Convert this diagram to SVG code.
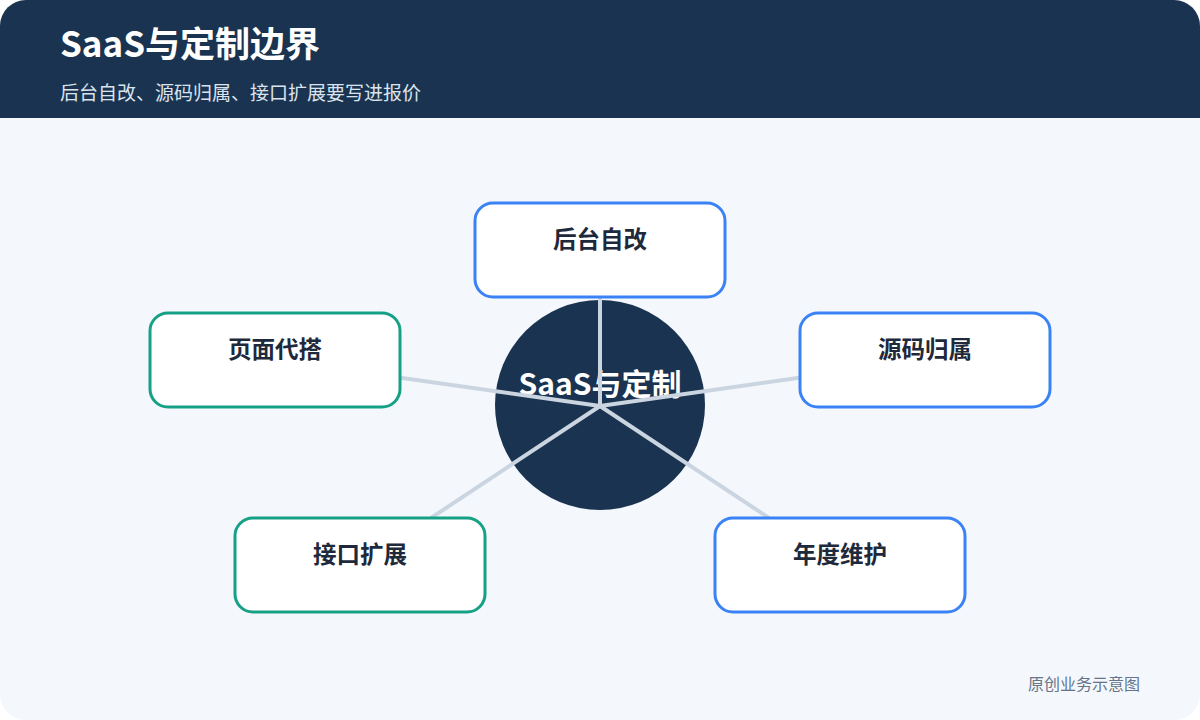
<svg xmlns="http://www.w3.org/2000/svg" width="1200" height="720" viewBox="0 0 1200 720">
<style>
.node rect{fill:#ffffff;stroke-width:3}
.blue rect{stroke:#3b82f6}
.green rect{stroke:#16a085}
.lbl{font-family:"Noto Sans CJK SC","Noto Sans",sans-serif;font-weight:700;font-size:23.5px;fill:#1e293b;text-anchor:middle}
.conn line{stroke:#cbd5e1;stroke-width:4;stroke-linecap:round}
</style>
<rect width="1200" height="720" fill="#ffffff"/>
<rect x="0" y="0" width="1200" height="720" rx="26" fill="#f4f8fc"/>
<path d="M0 26 A26 26 0 0 1 26 0 H1174 A26 26 0 0 1 1200 26 V118 H0 Z" fill="#1a3350"/>
<text x="60" y="57" font-family="'Noto Sans CJK SC','Noto Sans',sans-serif" font-weight="700" font-size="35" fill="#ffffff">SaaS与定制边界</text>
<text x="60" y="100" font-family="'Noto Sans CJK SC','Noto Sans',sans-serif" font-size="19" fill="#dbe4ee">后台自改、源码归属、接口扩展要写进报价</text>
<g id="center">
<circle cx="600" cy="405" r="105" fill="#1a3350"/>
<text x="600" y="395" font-family="'Noto Sans CJK SC','Noto Sans',sans-serif" font-weight="700" font-size="30" fill="#ffffff" text-anchor="middle">SaaS与定制</text>
</g>
<g id="connectors" class="conn">
<line x1="600" y1="406" x2="600" y2="250"/>
<line x1="600" y1="406" x2="275" y2="360"/>
<line x1="600" y1="406" x2="925" y2="360"/>
<line x1="600" y1="406" x2="360" y2="565"/>
<line x1="600" y1="406" x2="840" y2="565"/>
</g>
<g id="n-admin" class="node blue"><rect x="475" y="203" width="250" height="94" rx="18"/><text class="lbl" x="600" y="248">后台自改</text></g>
<g id="n-page" class="node green"><rect x="150" y="313" width="250" height="94" rx="18"/><text class="lbl" x="275" y="358">页面代搭</text></g>
<g id="n-source" class="node blue"><rect x="800" y="313" width="250" height="94" rx="18"/><text class="lbl" x="925" y="358">源码归属</text></g>
<g id="n-api" class="node green"><rect x="235" y="518" width="250" height="94" rx="18"/><text class="lbl" x="360" y="563">接口扩展</text></g>
<g id="n-maint" class="node blue"><rect x="715" y="518" width="250" height="94" rx="18"/><text class="lbl" x="840" y="563">年度维护</text></g>
<text x="1140" y="690" font-family="'Noto Sans CJK SC','Noto Sans',sans-serif" font-size="16" fill="#64748b" text-anchor="end">原创业务示意图</text>
</svg>
